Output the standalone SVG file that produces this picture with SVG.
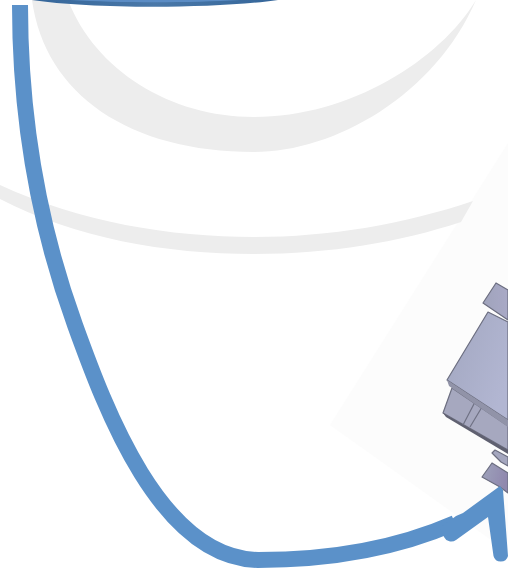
<svg xmlns="http://www.w3.org/2000/svg" width="508" height="571" viewBox="0 0 508 571">
<defs>
<linearGradient id="body" x1="0" y1="0" x2="1" y2="0.6"><stop offset="0" stop-color="#a2a7c0"/><stop offset="1" stop-color="#b2b6d2"/></linearGradient>
<linearGradient id="cap" x1="0" y1="0" x2="1" y2="0"><stop offset="0" stop-color="#a0a4bc"/><stop offset="1" stop-color="#a9a9c6"/></linearGradient>
<linearGradient id="lowcap" x1="0" y1="0" x2="1" y2="0.3"><stop offset="0" stop-color="#9ea3bb"/><stop offset="1" stop-color="#9088ae"/></linearGradient>
<linearGradient id="lens" x1="0" y1="0" x2="1" y2="0"><stop offset="0" stop-color="#35669a"/><stop offset="0.5" stop-color="#4a78a8"/><stop offset="1" stop-color="#35669a"/></linearGradient>
<filter id="soft" x="-5%" y="-5%" width="110%" height="110%"><feGaussianBlur stdDeviation="0.6"/></filter>
</defs>
<style>
.swoosh{fill:#ededed}
.part{stroke:#6c6e80;stroke-width:1.2;stroke-linejoin:round}
.edge{fill:none;stroke:#6f7184;stroke-width:1.2}
.arrow{fill:none;stroke:#5b91c9;stroke-width:16}
.head{fill:#5b91c9}
</style>
<rect width="508" height="571" fill="#ffffff"/>
<path id="backdrop" d="M508 143 L330 425 L508 552 Z" fill="#fcfcfc"/>
<path id="swoosh-upper" class="swoosh" d="M32 0 C45 95 130 152 254 152 C335 152 435 95 476 0 C440 60 350 117 254 117 C170 117 95 70 68 0 Z"/>
<path id="swoosh-lower" class="swoosh" d="M0 185 C80 222 170 237 254 237 C330 237 405 224 473 201 L461 222 C400 242 330 254 254 254 C165 254 75 238 0 199 Z"/>
<path id="lens-top" d="M32 0 C90 9 215 9 278 0 Z" fill="url(#lens)"/>
<path d="M70 0 C120 3 190 3 240 0 Z" fill="#5b8cc4"/>
<g id="device" filter="url(#soft)">
<path class="part" d="M482 477 L492 463 L508 473 L508 493 L500 487 Z" fill="url(#lowcap)"/>
<path class="part" d="M492 453 L495 450 L508 457 L508 466 L501 462 Z" fill="#a5a7bf"/>
<path class="part" d="M443 413 L452 388 L508 426 L508 450 Z" fill="#a6a8bf"/>
<path d="M443 413 L508 450 L508 454 L446 417 Z" fill="#5f6070"/>
<path class="edge" d="M475 402 L463 425 M482 407 L470 427"/>
<path class="part" d="M483 303 L496 283 L508 290 L508 320 Z" fill="url(#cap)"/>
<path class="part" d="M447 380 L488 312 L508 322 L508 420 Z" fill="url(#body)"/>
<path d="M447 380 L508 420 L508 427 L449 386 Z" fill="#9193a8"/>
</g>
<g id="connectors">
<path class="arrow" d="M20 5 C20 110 35 215 75 325 C105 408 160 558 258 560 C335 560 400 547 455 523"/>
<path class="head" d="M500 486 L503 490 L508 556 A7.5 7.5 0 0 1 493.500 556 L488 517 L456 540 A8 8 0 0 1 444 537 L440 528 L456 516 L463 513 Z"/>
</g>
</svg>
